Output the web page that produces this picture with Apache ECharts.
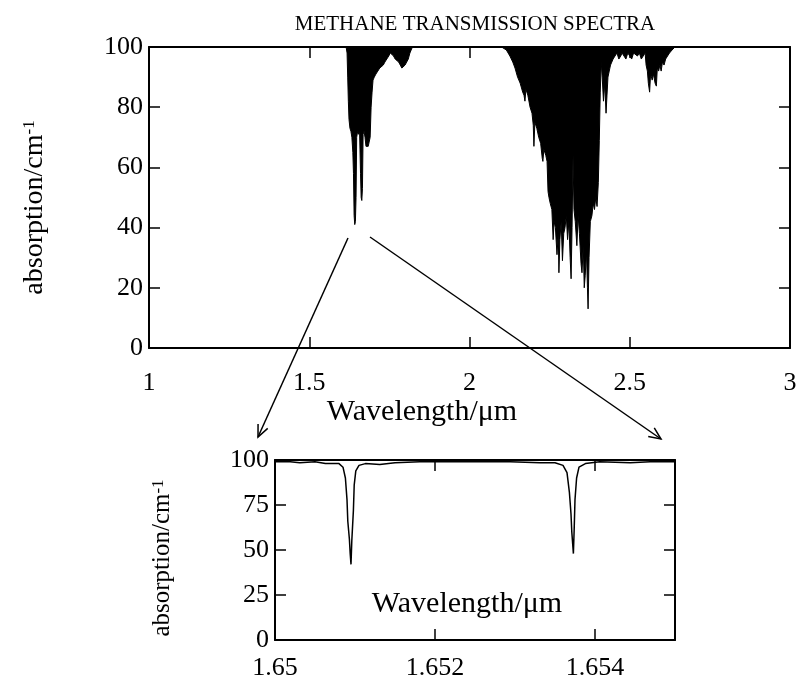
<!DOCTYPE html>
<html>
<head>
<meta charset="utf-8">
<title>Methane transmission spectra</title>
<script src="https://cdn.jsdelivr.net/npm/echarts@6/dist/echarts.min.js"></script>
<style>
html, body { margin: 0; padding: 0; background: #ffffff; }
#chart { width: 800px; height: 681px; }
</style>
</head>
<body>
<div id="chart"></div>
<script>
// overview spectrum, 1.6 um band
var band1Wl = [1.0, 1.600, 1.615, 1.618, 1.620, 1.622, 1.624, 1.627, 1.630, 1.633, 1.636, 1.638, 1.640, 1.642, 1.644, 1.646,
  1.648, 1.651, 1.654, 1.657, 1.660, 1.662, 1.664, 1.666, 1.668, 1.671, 1.674, 1.677, 1.680, 1.684, 1.687, 1.690,
  1.693, 1.696, 1.699, 1.703, 1.708, 1.714, 1.720, 1.726, 1.731, 1.736, 1.742, 1.748, 1.753, 1.758, 1.763, 1.768,
  1.774, 1.779, 1.784, 1.789, 1.794, 1.799, 1.804, 1.809, 1.814, 1.818, 1.822]
var band1Abs = [100, 100, 100, 98, 90, 82, 76, 73, 72, 70, 65, 58, 44, 41, 42, 50,
  70, 72, 71, 72, 58, 50, 49, 53, 71, 72, 70, 67, 67, 67, 67, 70,
  80, 85, 89, 90, 91, 92, 93, 93, 94, 95, 96, 97, 98, 98, 97, 96,
  96, 95, 94, 93, 93, 94, 95, 96, 98, 99, 100]

// overview spectrum, 2.3 um band
var band2Wl = [2.100, 2.115, 2.126, 2.135, 2.142, 2.150, 2.158, 2.166, 2.170, 2.173, 2.176, 2.182, 2.189, 2.195, 2.199, 2.201,
  2.204, 2.210, 2.216, 2.222, 2.227, 2.229, 2.232, 2.238, 2.242, 2.245, 2.248, 2.252, 2.257, 2.261, 2.264, 2.268,
  2.273, 2.277, 2.279, 2.282, 2.286, 2.290, 2.294, 2.298, 2.302, 2.306, 2.310, 2.314, 2.317, 2.320, 2.323, 2.326,
  2.330, 2.335, 2.339, 2.343, 2.348, 2.351, 2.355, 2.358, 2.361, 2.365, 2.368, 2.370, 2.373, 2.377, 2.382, 2.386,
  2.390, 2.394, 2.398, 2.402, 2.405, 2.408, 2.411, 2.414, 2.418, 2.422, 2.426, 2.429, 2.432, 2.436, 2.440, 2.444,
  2.448, 2.454, 2.460, 2.466, 2.472, 2.476, 2.482, 2.488, 2.494, 2.500, 2.506, 2.512, 2.518, 2.524, 2.530, 2.536,
  2.542, 2.548, 2.551, 2.555, 2.558, 2.562, 2.565, 2.570, 2.574, 2.579, 2.583, 2.586, 2.590, 2.594, 2.598, 2.602,
  2.607, 2.612, 2.618, 2.624, 2.632, 2.641, 3.0]
var band2Abs = [100, 99, 97, 95, 93, 90, 88, 85, 84, 82, 86, 84, 80, 78, 74, 67,
  75, 73, 70, 68, 63, 62, 66, 64, 62, 52, 50, 48, 46, 36, 42, 40,
  31, 38, 25, 36, 42, 29, 38, 40, 44, 36, 42, 30, 23, 40, 64, 46,
  42, 34, 44, 38, 28, 25, 34, 20, 24, 32, 20, 13, 30, 42, 44, 48,
  46, 50, 47, 55, 69, 85, 95, 90, 82, 88, 78, 84, 90, 92, 94, 95,
  96, 97, 98, 96, 97, 98, 97, 96, 98, 97, 96, 98, 98, 97, 98, 96,
  97, 98, 94, 92, 88, 85, 91, 89, 91, 88, 87, 93, 92, 94, 92, 95,
  94, 96, 97, 98, 99, 100, 100]

// zoomed inset 1.650 - 1.655 um
var insetWl = [1.65001, 1.65019, 1.65031, 1.65050, 1.65063, 1.65073, 1.65080, 1.65085, 1.65088, 1.65090, 1.65091, 1.65093,
  1.65094, 1.65095, 1.65096, 1.65098, 1.65099, 1.65101, 1.65105, 1.65113, 1.65131, 1.65150, 1.65181, 1.65219,
  1.65256, 1.65294, 1.65331, 1.65350, 1.65360, 1.65365, 1.65368, 1.65370, 1.65371, 1.65373, 1.65374, 1.65375,
  1.65377, 1.65380, 1.65388, 1.65406, 1.65444, 1.65469, 1.65500]
var insetAbs = [99, 99, 98.5, 99, 98, 98, 98, 96, 90, 78, 66, 56,
  48, 42, 55, 72, 86, 94, 97, 98, 97.5, 98.5, 99, 99,
  99, 99, 98.5, 98.5, 97, 93, 82, 70, 60, 48, 62, 78,
  90, 96, 98, 99, 98.5, 99, 99]

var mainX = { min: 1, max: 3, interval: 0.5 }
var mainY = { min: 0, max: 100, interval: 20 }
var insetX = { min: 1.65, max: 1.655, interval: 0.002 }
var insetY = { min: 0, max: 100, interval: 25 }

var font = 'Liberation Serif'
var ink = '#000000'

function zip (xs, ys) {
  var out = []
  for (var i = 0; i < xs.length; i++) out.push([xs[i], ys[i]])
  return out
}

function frameAxis (grid, pos, range, labels) {
  return {
    type: 'value',
    gridIndex: grid,
    position: pos,
    min: range.min,
    max: range.max,
    interval: range.interval,
    splitLine: { show: false },
    axisLine: { show: true, onZero: false, lineStyle: { color: ink, width: 2 } },
    axisTick: { show: true, inside: true, length: 11, lineStyle: { color: ink, width: 1.5 } },
    axisLabel: labels || { show: false }
  }
}

function tickLabels (margin, extra) {
  var l = { show: true, color: ink, fontFamily: font, fontSize: 26, margin: margin }
  return Object.assign(l, extra || {})
}

var supRich = { sup: { fontFamily: font, fontSize: 17, color: ink, verticalAlign: 'top' } }

var xMain = frameAxis(0, 'bottom', mainX, tickLabels(22))
xMain.name = 'Wavelength/μm'
xMain.nameLocation = 'middle'
xMain.nameGap = 49
xMain.nameTextStyle = { fontFamily: font, fontSize: 30, color: ink, padding: [0, 95, 0, 0] }

var xInset = frameAxis(1, 'bottom', insetX, tickLabels(15, { showMaxLabel: false }))
xInset.name = 'Wavelength/μm'
xInset.nameLocation = 'middle'
xInset.nameGap = -51
xInset.nameTextStyle = { fontFamily: font, fontSize: 30, color: ink, padding: [0, 16, 0, 0] }

var yMain = frameAxis(0, 'left', mainY, tickLabels(6))
yMain.name = 'absorption/cm{sup|-1}'
yMain.nameLocation = 'middle'
yMain.nameGap = 100
yMain.nameTextStyle = { fontFamily: font, fontSize: 28, color: ink, padding: [0, 20, 0, 0], rich: supRich }

var yInset = frameAxis(1, 'left', insetY, tickLabels(6))
yInset.name = 'absorption/cm{sup|-1}'
yInset.nameLocation = 'middle'
yInset.nameGap = 100
yInset.nameTextStyle = { fontFamily: font, fontSize: 25, color: ink, padding: [0, 16, 0, 0], rich: supRich }

// pointer arrows from the 1.65 um line down to the inset
var arrows = [[348, 238, 258, 437], [370, 237, 661, 439]]
var graphics = []
arrows.forEach(function (a) {
  var dx = a[2] - a[0]
  var dy = a[3] - a[1]
  var ang = Math.atan2(dy, dx)
  var len = 13
  var spread = 0.42
  graphics.push({
    type: 'polyline',
    shape: { points: [[a[0], a[1]], [a[2], a[3]]] },
    style: { stroke: ink, lineWidth: 1.5, fill: null }
  })
  graphics.push({
    type: 'polyline',
    shape: {
      points: [
        [a[2] - len * Math.cos(ang - spread), a[3] - len * Math.sin(ang - spread)],
        [a[2], a[3]],
        [a[2] - len * Math.cos(ang + spread), a[3] - len * Math.sin(ang + spread)]
      ]
    },
    style: { stroke: ink, lineWidth: 1.5, fill: null }
  })
})

var chart = echarts.init(document.getElementById('chart'))
chart.setOption({
  animation: false,
  backgroundColor: '#ffffff',
  title: {
    text: 'METHANE TRANSMISSION SPECTRA',
    left: 470,
    top: 9,
    textAlign: 'center',
    textStyle: { fontFamily: font, fontSize: 21, fontWeight: 'normal', color: ink }
  },
  grid: [
    { left: 149, top: 47, width: 641, height: 301 },
    { left: 275, top: 460, width: 400, height: 180 }
  ],
  xAxis: [xMain, frameAxis(0, 'top', mainX), xInset, frameAxis(1, 'top', insetX)],
  yAxis: [yMain, frameAxis(0, 'right', mainY), yInset, frameAxis(1, 'right', insetY)],
  series: [
    {
      type: 'line',
      xAxisIndex: 0,
      yAxisIndex: 0,
      data: zip(band1Wl, band1Abs).concat(zip(band2Wl, band2Abs)),
      symbol: 'none',
      lineStyle: { color: ink, width: 1 },
      areaStyle: { origin: 'end', color: ink, opacity: 1 }
    },
    {
      type: 'line',
      xAxisIndex: 2,
      yAxisIndex: 2,
      data: zip(insetWl, insetAbs),
      symbol: 'none',
      lineStyle: { color: ink, width: 1.5 }
    }
  ],
  graphic: graphics
})
</script>
</body>
</html>
